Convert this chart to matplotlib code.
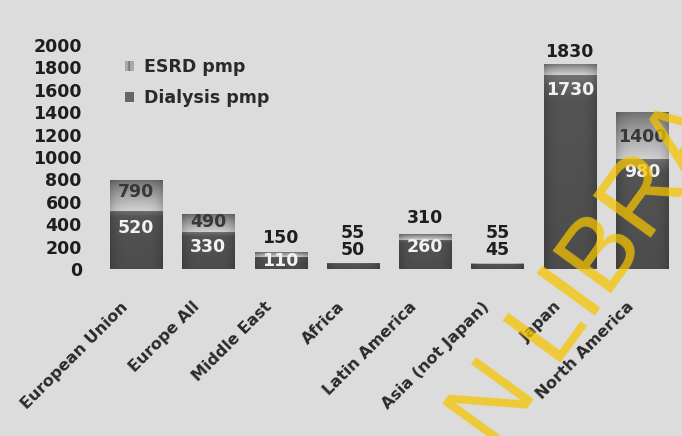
import numpy as np
import matplotlib.pyplot as plt
from matplotlib.patches import Patch
from matplotlib.transforms import ScaledTranslation

# data
regions = ["European Union", "Europe All", "Middle East", "Africa",
           "Latin America", "Asia (not Japan)", "Japan", "North America"]
esrd_pmp = [790, 490, 150, 55, 310, 55, 1830, 1400]
dialysis_pmp = [520, 330, 110, 50, 260, 45, 1730, 980]
y_ticks = [0, 200, 400, 600, 800, 1000, 1200, 1400, 1600, 1800, 2000]

# where the value labels sit, in pixels from the top of each bar (+ = above)
esrd_label_dy = [-12, -8, 14, 30, 16, 30, 12, -25]
dial_label_dy = [-17, -15, -4, 13, -7, 14, -15, -13]

plt.rcParams["font.family"] = ["DejaVu Sans"]
plt.rcParams["font.weight"] = "bold"

BG = "#dcdcdc"
INK = "#1e1e1e"


def lerp(c0, c1, t):
    return c0 + (c1 - c0) * t


def gradient_img(nrows, top, bottom, knee=None):
    # vertical gradient (row 0 = top) with darker left/right edges
    t = np.linspace(0, 1, nrows)[:, None]
    if knee is None:
        v = lerp(top, bottom, t ** 0.8)
    else:
        mid, kt = knee
        v = np.where(t < kt, lerp(top, mid, t / kt), lerp(mid, bottom, (t - kt) / (1 - kt)))
    xs = np.linspace(-1, 1, 40)[None, :]
    v = v * (1 - 0.18 * np.abs(xs) ** 4)
    img = np.clip(np.repeat(v[:, :, None], 3, axis=2), 0, 1)
    return img


def shade(ax, bar, y0, y1, img):
    x0 = bar.get_x()
    x1 = x0 + bar.get_width()
    im = ax.imshow(img, extent=(x0, x1, y0, y1), origin="upper",
                   aspect="auto", zorder=bar.get_zorder() + 0.1,
                   interpolation="bilinear")
    im.set_clip_path(bar)


fig = plt.figure(figsize=(6.82, 4.36), dpi=100, facecolor=BG)
ax = fig.add_axes([0.1465, 0.383, 0.8425, 0.514])
ax.set_facecolor("none")

x = np.arange(len(regions))
w = 0.72
esrd_bars = ax.bar(x, esrd_pmp, w, color="#9a9a9a", zorder=2)
dial_bars = ax.bar(x, dialysis_pmp, w, color="#525252", zorder=3)

for i in range(len(regions)):
    shade(ax, esrd_bars[i], dialysis_pmp[i], esrd_pmp[i],
          gradient_img(60, 0.42, 0.82))
    shade(ax, dial_bars[i], 0, dialysis_pmp[i],
          gradient_img(200, 0.45, 0.30, knee=(0.33, 0.12)))

ax.set_xlim(-0.5, 7.45)
ax.set_ylim(0, 2000)

for i in range(len(regions)):
    inside = esrd_label_dy[i] < 0
    ax.annotate(str(esrd_pmp[i]), (x[i], esrd_pmp[i]),
                xytext=(0, esrd_label_dy[i]), textcoords="offset pixels",
                ha="center", va="center", fontsize=12.5, fontweight="bold",
                color="#383838" if inside else INK, zorder=6)
    inside = dial_label_dy[i] < 0
    ax.annotate(str(dialysis_pmp[i]), (x[i], dialysis_pmp[i]),
                xytext=(0, dial_label_dy[i]), textcoords="offset pixels",
                ha="center", va="center", fontsize=12.5, fontweight="bold",
                color="#f2f2f2" if inside else INK, zorder=6)

for s in ax.spines.values():
    s.set_visible(False)
ax.set_yticks(y_ticks)
ax.set_yticklabels([str(v) for v in y_ticks], fontsize=12.5, fontweight="bold",
                   color=INK)
ax.tick_params(axis="y", length=0, pad=13)
ax.set_xticks(x)
ax.set_xticklabels(regions, rotation=45, ha="right", rotation_mode="anchor",
                   fontsize=11.5, fontweight="bold", color="#2a2a2a")
ax.tick_params(axis="x", length=0, pad=0)
shift = ScaledTranslation(-16 / 100, -30 / 100, fig.dpi_scale_trans)
for lab in ax.get_xticklabels():
    lab.set_transform(lab.get_transform() + shift)

handles = [Patch(facecolor="#a8a8a8", edgecolor="#6a6a6a", hatch="||", lw=0),
           Patch(facecolor="#666666", edgecolor="none")]
leg = ax.legend(handles, ["ESRD pmp", "Dialysis pmp"], loc="upper left",
                bbox_to_anchor=(125 / 682, 1 - 58 / 436),
                bbox_transform=fig.transFigure, frameon=False,
                handlelength=0.5, handleheight=0.5, handletextpad=0.6,
                labelspacing=0.75, borderpad=0, borderaxespad=0,
                prop={"size": 12.5, "weight": "bold"})
for t in leg.get_texts():
    t.set_color("#2a2a2a")

# yellow watermark across the right side of the scan
fig.text(496 / 682, -16 / 436, "N LIBRA", rotation=54, rotation_mode="anchor",
         ha="left", va="baseline", fontsize=74, fontweight="normal",
         family="Liberation Sans", color="#f5c400", alpha=0.75, zorder=10)

fig.savefig("out.png", dpi=100, facecolor=BG)
